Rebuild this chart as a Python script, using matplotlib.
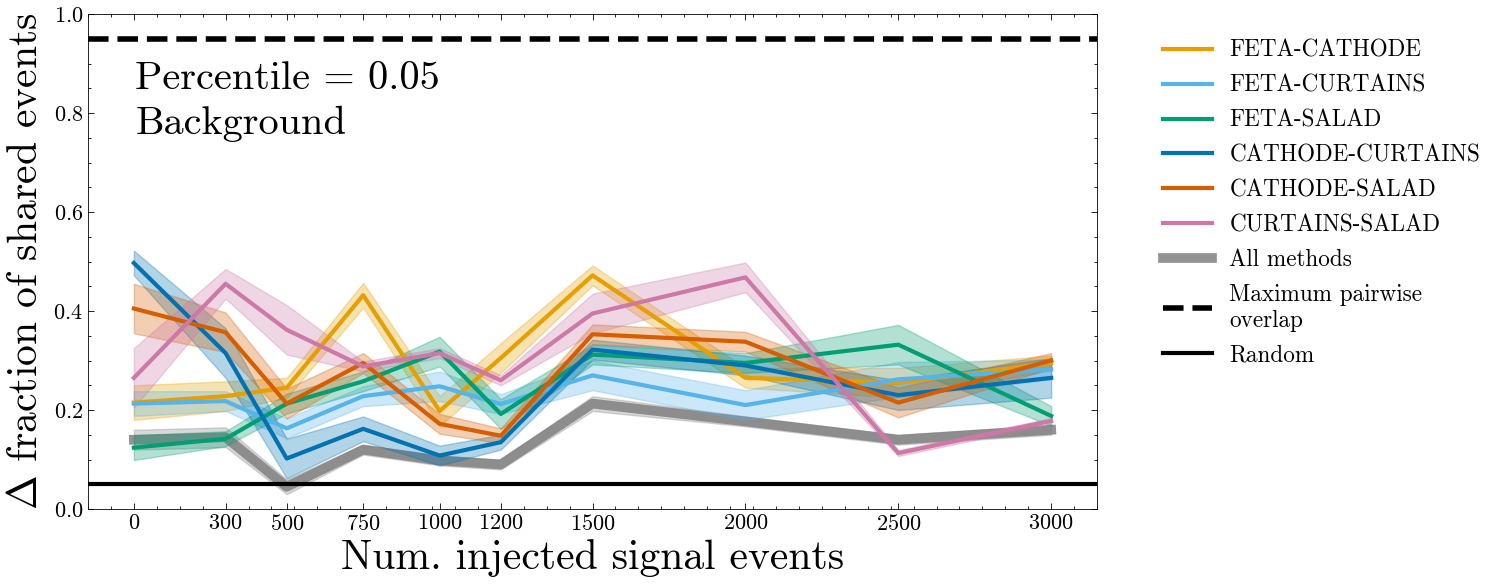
import numpy as np
import matplotlib
matplotlib.use("Agg")
import matplotlib.pyplot as plt
from matplotlib.ticker import AutoMinorLocator

plt.rcParams["font.family"] = "cmr10"
plt.rcParams["mathtext.fontset"] = "cm"
plt.rcParams["axes.formatter.use_mathtext"] = True

n_signal = [0, 300, 500, 750, 1000, 1200, 1500, 2000, 2500, 3000]

feta_cathode = [0.215, 0.228, 0.245, 0.432, 0.198, 0.305, 0.472, 0.265, 0.255, 0.295]
feta_cathode_err = [0.035, 0.03, 0.02, 0.025, 0.03, 0.03, 0.02, 0.02, 0.03, 0.015]

feta_curtains = [0.213, 0.218, 0.163, 0.228, 0.248, 0.212, 0.27, 0.21, 0.262, 0.282]
feta_curtains_err = [0.025, 0.02, 0.02, 0.02, 0.03, 0.02, 0.03, 0.03, 0.035, 0.02]

feta_salad = [0.124, 0.142, 0.213, 0.258, 0.318, 0.192, 0.312, 0.295, 0.332, 0.188]
feta_salad_err = [0.025, 0.015, 0.02, 0.02, 0.03, 0.03, 0.02, 0.02, 0.04, 0.02]

cathode_curtains = [0.497, 0.315, 0.102, 0.162, 0.108, 0.135, 0.322, 0.29, 0.23, 0.265]
cathode_curtains_err = [0.025, 0.05, 0.04, 0.025, 0.02, 0.015, 0.02, 0.02, 0.03, 0.04]

cathode_salad = [0.405, 0.357, 0.213, 0.295, 0.172, 0.148, 0.353, 0.338, 0.215, 0.3]
cathode_salad_err = [0.05, 0.04, 0.03, 0.02, 0.02, 0.015, 0.02, 0.02, 0.03, 0.015]

curtains_salad = [0.265, 0.455, 0.362, 0.288, 0.315, 0.26, 0.395, 0.468, 0.113, 0.178]
curtains_salad_err = [0.06, 0.03, 0.05, 0.01, 0.01, 0.01, 0.04, 0.03, 0.006, 0.006]

all_methods = [0.14, 0.145, 0.045, 0.12, 0.098, 0.09, 0.213, 0.177, 0.14, 0.16]
all_methods_err = [0.02, 0.02, 0.015, 0.01, 0.01, 0.01, 0.015, 0.01, 0.01, 0.01]

max_overlap = 0.95
random_level = 0.05

pairs = [
    ("FETA-CATHODE", feta_cathode, feta_cathode_err, "#E69F00"),
    ("FETA-CURTAINS", feta_curtains, feta_curtains_err, "#56B4E9"),
    ("FETA-SALAD", feta_salad, feta_salad_err, "#009E73"),
    ("CATHODE-CURTAINS", cathode_curtains, cathode_curtains_err, "#0072B2"),
    ("CATHODE-SALAD", cathode_salad, cathode_salad_err, "#D55E00"),
    ("CURTAINS-SALAD", curtains_salad, curtains_salad_err, "#CC79A7"),
]


def main():
    fig, ax = plt.subplots(figsize=(14.94, 5.84), dpi=100)
    fig.subplots_adjust(left=0.0589, right=0.7343, top=0.976, bottom=0.1284)

    x = np.array(n_signal)
    for label, y, err, color in pairs:
        y = np.array(y)
        err = np.array(err)
        ax.fill_between(x, y - err, y + err, color=color, alpha=0.3, zorder=1)
        ax.plot(x, y, color=color, lw=3, label=label, zorder=2)

    # overall agreement, drawn underneath the pairs
    y = np.array(all_methods)
    err = np.array(all_methods_err)
    ax.fill_between(x, y - err, y + err, color="gray", alpha=0.3, zorder=0.8)
    ax.plot(x, y, color="gray", alpha=0.85, lw=7, label="All methods", zorder=0.9)

    ax.axhline(max_overlap, color="black", ls="--", lw=4,
               label="Maximum pairwise\noverlap")
    ax.axhline(random_level, color="black", ls="-", lw=3, label="Random")

    ax.set_xlim(-150, 3150)
    ax.set_ylim(0, 1)
    ax.set_xticks(n_signal)
    ax.xaxis.set_minor_locator(AutoMinorLocator())
    ax.yaxis.set_minor_locator(AutoMinorLocator())
    ax.tick_params(which="both", direction="in", top=True, right=True,
                   labelsize=16)
    ax.tick_params(which="major", length=4, width=0.6)
    ax.tick_params(which="minor", length=2, width=0.6)
    for sp in ax.spines.values():
        sp.set_linewidth(0.6)

    ax.set_xlabel("Num. injected signal events", fontsize=30, labelpad=4)
    ax.set_ylabel(r"$\Delta$ fraction of shared events", fontsize=30,
                  labelpad=6)

    ax.text(0.047, 0.905, "Percentile = 0.05\nBackground",
            transform=ax.transAxes, fontsize=29, va="top", ha="left",
            linespacing=1.3)

    ax.legend(loc="upper left", bbox_to_anchor=(1.045, 0.99), frameon=False,
              fontsize=16.7, handlelength=2.1, handletextpad=0.75,
              labelspacing=0.55)

    fig.savefig("out.png", dpi=100)


if __name__ == "__main__":
    main()
